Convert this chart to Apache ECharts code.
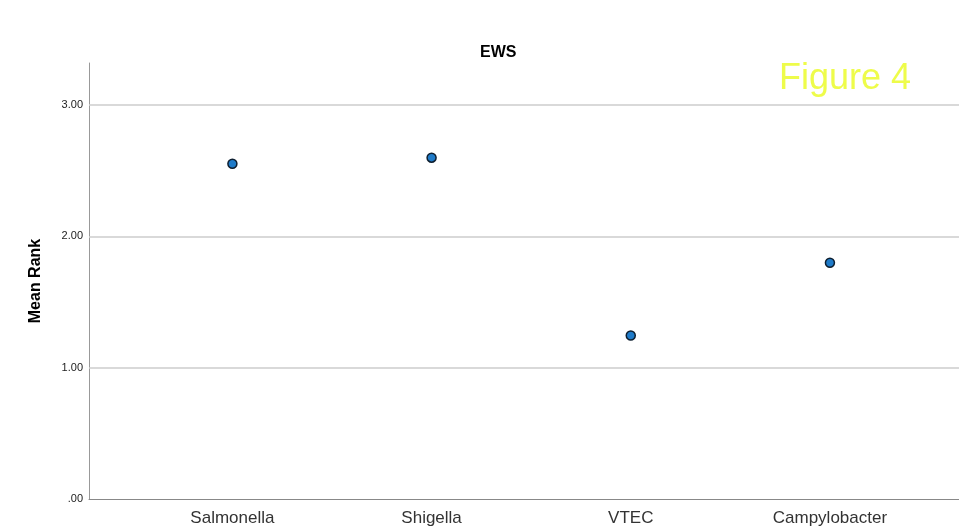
<!DOCTYPE html>
<html><head><meta charset="utf-8">
<script src="https://cdn.jsdelivr.net/npm/echarts@6/dist/echarts.min.js"></script>
<style>html,body{margin:0;padding:0;background:#fff}#c{width:959px;height:531px}</style>
</head><body><div id="c"></div>
<script>
const categories = ['Salmonella', 'Shigella', 'VTEC', 'Campylobacter'];
const meanRank = [2.553, 2.599, 1.245, 1.799];
const yTicks = [0, 1, 2, 3];
const titleText = 'EWS';
const yName = 'Mean Rank';
const note = 'Figure 4';

const chart = echarts.init(document.getElementById('c'));
chart.setOption({
  animation: false,
  title: { text: titleText, left: 475, top: 40,
    textStyle: { fontFamily: 'Liberation Sans, Arial', fontSize: 16, fontWeight: 'bold', color: '#000' } },
  grid: { left: 89, right: 0, top: 63, bottom: 32, containLabel: false },
  xAxis: {
    type: 'value', min: -0.720, max: 3.648,
    axisLine: { show: true, onZero: false, lineStyle: { color: '#888', width: 1 } },
    axisTick: { show: false },
    splitLine: { show: false },
    axisLabel: { customValues: categories.map((_, i) => i), formatter: v => categories[Math.round(v)] || '',
      fontFamily: 'Liberation Sans, Arial', fontSize: 17, color: '#333', margin: 11 }
  },
  yAxis: {
    type: 'value', min: 0, max: 3.32,
    name: yName, nameLocation: 'middle', nameRotate: 90, nameGap: 45,
    nameTextStyle: { fontFamily: 'Liberation Sans, Arial', fontSize: 16, fontWeight: 'bold', color: '#000' },
    axisLine: { show: true, onZero: false, lineStyle: { color: '#999', width: 1 } },
    axisTick: { show: false },
    splitLine: { show: false },
    axisLabel: { customValues: yTicks, formatter: v => v === 0 ? '.00' : v.toFixed(2),
      fontFamily: 'Liberation Sans, Arial', fontSize: 11, color: '#222', margin: 6 }
  },
  graphic: [{
    type: 'text', left: 779, top: 61,
    style: { text: note, fontFamily: 'Liberation Sans, Arial', fontSize: 36, fill: '#eefc4a' }
  }],
  series: [{
    type: 'scatter',
    data: meanRank.map((v, i) => [i, v]),
    symbol: 'circle', symbolSize: 9,
    itemStyle: { color: '#1f7bc9', borderColor: '#0e1f30', borderWidth: 1.5, opacity: 1 },
    markLine: {
      silent: true, symbol: 'none', label: { show: false },
      lineStyle: { color: '#cccccc', type: 'solid', width: 1.5 },
      data: yTicks.filter(v => v > 0).map(v => ({ yAxis: v }))
    },
    z: 5
  }]
});
</script></body></html>
